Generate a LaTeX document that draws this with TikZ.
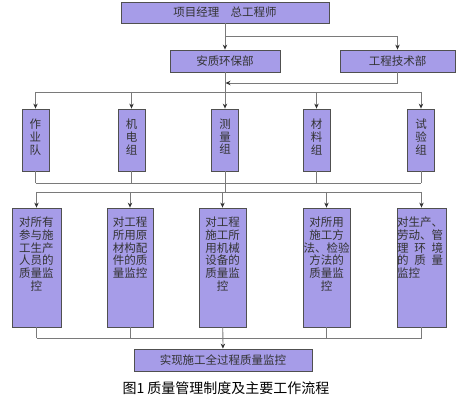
\documentclass[tikz,border=0pt]{standalone}
\usepackage{fontspec}
\setmainfont{Noto Sans CJK SC}
\usetikzlibrary{arrows.meta}
\definecolor{boxfill}{HTML}{A69CE8}
\definecolor{boxline}{HTML}{505050}
\definecolor{wiregray}{HTML}{7A7A7A}
\newcommand{\boxtext}[3]{\parbox[c][#1][t]{#2}{\centering #3}}
\begin{document}
\begin{tikzpicture}[x=1pt,y=-1pt,
    box/.style={draw=boxline, fill=boxfill, line width=0.8pt, inner sep=0pt,
      text=black!80, font=\fontsize{11.5}{12.7}\selectfont},
    wire/.style={draw=wiregray, line width=0.8pt},
    arr/.style={wire, -{Stealth[length=5pt,width=4.5pt,color=black!80]}}]
    \useasboundingbox (0,0) rectangle (475,404);

    % top levels
    \node[box, minimum width=208pt, minimum height=21pt] (pm) at (225,12.5) {项目经理　总工程师};
    \node[box, minimum width=110pt, minimum height=22pt] (aq) at (225,61) {安质环保部};
    \node[box, minimum width=115pt, minimum height=22pt] (js) at (397.5,61) {工程技术部};

    % groups
    \node[box, minimum width=27pt, minimum height=62pt] (g1) at (35.5,140) {\boxtext{42pt}{27pt}{作\\业\\队}};
    \node[box, minimum width=27pt, minimum height=62pt] (g2) at (131.5,140) {\boxtext{42pt}{27pt}{机\\电\\组}};
    \node[box, minimum width=27pt, minimum height=62pt] (g3) at (225,140) {\boxtext{42pt}{27pt}{测\\量\\组}};
    \node[box, minimum width=27pt, minimum height=62pt] (g4) at (316.5,140) {\boxtext{42pt}{27pt}{材\\料\\组}};
    \node[box, minimum width=27pt, minimum height=62pt] (g5) at (421,140) {\boxtext{42pt}{27pt}{试\\验\\组}};

    % monitoring tasks
    \node[box, minimum width=49pt, minimum height=119pt] (m1) at (36.5,267.5)
      {\boxtext{101pt}{49pt}{对所有\\参与施\\工生产\\人员的\\质量监\\控}};
    \node[box, minimum width=46pt, minimum height=119pt] (m2) at (130,267.5)
      {\boxtext{101pt}{46pt}{对工程\\所用原\\材构配\\件的质\\量监控}};
    \node[box, minimum width=47pt, minimum height=119pt] (m3) at (222.5,267.5)
      {\boxtext{101pt}{47pt}{对工程\\施工所\\用机械\\设备的\\质量监\\控}};
    \node[box, minimum width=47pt, minimum height=119pt] (m4) at (326.5,267.5)
      {\boxtext{101pt}{47pt}{对所用\\施工方\\法、检验\\方法的\\质量监\\控}};
    \node[box, minimum width=49pt, minimum height=119pt] (m5) at (421.5,267.5)
      {\parbox[c][101pt][t]{49pt}{对生产、\\劳动、管\\\makebox[46pt][s]{理\hfill 环\hfill 境}\\\makebox[46pt][s]{的\hfill 质\hfill 量}\\监控}};

    \node[box, minimum width=178pt, minimum height=22pt] (fin) at (223,360) {实现施工全过程质量监控};
    \node[font=\fontsize{14}{16}\selectfont, inner sep=0pt] (cap) at (226,388) {图1 质量管理制度及主要工作流程};

    \coordinate (split) at (225,36);
    \coordinate (merge) at (225.5,83);
    \coordinate (bus1) at (225,92);
    \coordinate (join1) at (225,183);
    \coordinate (bus2) at (223,192);
    \coordinate (join2) at (223,338);

    \draw[arr] (pm) -- (aq);
    \draw[arr] (split) -| (js);
    \draw[arr] (js) |- (merge);
    \draw[wire] (aq) -- (bus1);
    \draw[wire] (g1 |- bus1) -- (g5 |- bus1);
    \foreach \g in {g1,g2,g3,g4,g5} \draw[arr] (\g |- bus1) -- (\g);

    \foreach \g in {g1,g2,g4,g5} \draw[wire] (\g) -- (\g |- join1);
    \draw[wire] (g1 |- join1) -- (g5 |- join1);
    \draw[wire] (g3) -- (g3 |- bus2);
    \draw[wire] (m1 |- bus2) -- (m5 |- bus2);
    \foreach \m in {m1,m2,m3,m4,m5} \draw[arr] (\m |- bus2) -- (\m);

    \foreach \m in {m1,m2,m4,m5} \draw[wire] (\m) -- (\m |- join2);
    \draw[wire] (m1 |- join2) -- (m5 |- join2);
    \draw[arr] (m3) -- (fin);
\end{tikzpicture}
\end{document}
